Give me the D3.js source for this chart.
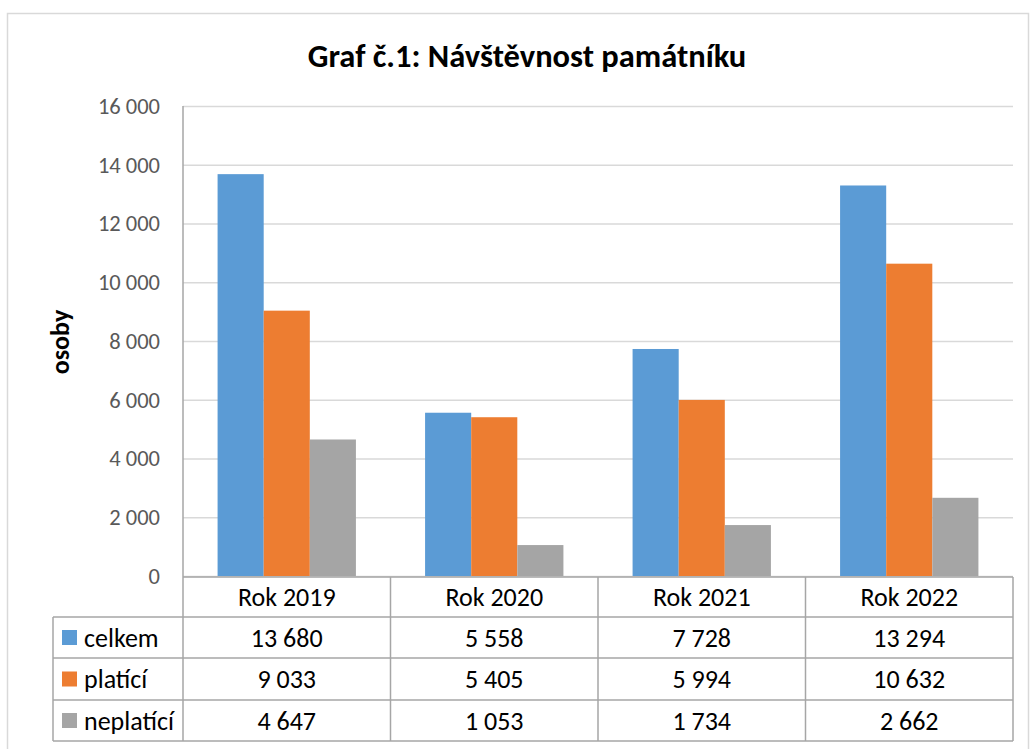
<!DOCTYPE html>
<html>
<head>
<meta charset="utf-8">
<script src="https://cdn.jsdelivr.net/npm/d3@7"></script>
<style>
  body { margin: 0; background: #fff; }
  text { font-family: Carlito, Calibri, Lato, sans-serif; }
</style>
</head>
<body>
<svg id="chart" width="1030" height="749"></svg>
<script>
const years = ["Rok 2019", "Rok 2020", "Rok 2021", "Rok 2022"];
const seriesNames = ["celkem", "platící", "neplatící"];
const celkem = [13680, 5558, 7728, 13294];
const platici = [9033, 5405, 5994, 10632];
const neplatici = [4647, 1053, 1734, 2662];
const yTicks = [0, 2000, 4000, 6000, 8000, 10000, 12000, 14000, 16000];
const colors = ["#5b9bd5", "#ed7d31", "#a5a5a5"];

const seriesValues = [celkem, platici, neplatici];
const fmt = v => d3.format(",")(v).replace(/,/g, " ");

const svg = d3.select("#chart");

// chart outer border
svg.append("rect")
    .attr("x", 7.5).attr("y", 13.5)
    .attr("width", 1021).attr("height", 760)
    .attr("fill", "#fff").attr("stroke", "#d9d9d9").attr("stroke-width", 1.5);

const plotLeft = 183, plotRight = 1013, plotTop = 106, plotBottom = 576;

const x0 = d3.scaleBand().domain(years).range([plotLeft, plotRight]);
const x1 = d3.scaleBand().domain(seriesNames).range([0, x0.bandwidth()]).paddingOuter(0.75);
const y = d3.scaleLinear().domain([0, 16000]).range([plotBottom, plotTop]);

// gridlines
svg.append("g")
    .attr("transform", "translate(" + plotLeft + ",0)")
    .call(d3.axisLeft(y).tickValues(yTicks).tickSize(-(plotRight - plotLeft)).tickFormat(""))
    .call(g => g.select(".domain").remove())
    .call(g => g.selectAll(".tick line").attr("stroke", "#d9d9d9").attr("stroke-width", 1.5));

// tick labels
svg.append("g")
    .selectAll("text")
    .data(yTicks)
    .enter()
    .append("text")
    .attr("x", 160)
    .attr("y", d => y(d))
    .attr("dy", "0.35em")
    .attr("text-anchor", "end")
    .attr("fill", "#595959")
    .style("font-size", "22.5px")
    .text(fmt);

// bars
const groups = svg.append("g")
    .selectAll("g")
    .data(seriesNames)
    .enter()
    .append("g")
    .attr("fill", (d, i) => colors[i]);

groups.selectAll("rect")
    .data((s, i) => seriesValues[i].map((v, j) => ({ s: s, year: years[j], v: v })))
    .enter()
    .append("rect")
    .attr("x", d => x0(d.year) + x1(d.s))
    .attr("y", d => y(d.v))
    .attr("width", x1.bandwidth())
    .attr("height", d => y(0) - y(d.v));

// data table
const rowY = [577, 617, 658, 700, 741];
const legendLeft = 53;
const lineClr = "#a6a6a6";
const tbl = svg.append("g").attr("stroke", lineClr).attr("stroke-width", 1.5);

// axis line continues down through the table
tbl.append("line").attr("x1", plotLeft).attr("x2", plotLeft).attr("y1", plotTop).attr("y2", rowY[4]);
tbl.append("line").attr("x1", plotLeft).attr("x2", plotRight).attr("y1", rowY[0]).attr("y2", rowY[0]);
rowY.slice(1).forEach(ry => {
    tbl.append("line").attr("x1", legendLeft).attr("x2", plotRight).attr("y1", ry).attr("y2", ry);
});
tbl.append("line").attr("x1", legendLeft).attr("x2", legendLeft).attr("y1", rowY[1]).attr("y2", rowY[4]);
years.forEach(yr => {
    const xr = x0(yr) + x0.bandwidth();
    tbl.append("line").attr("x1", xr).attr("x2", xr).attr("y1", rowY[0]).attr("y2", rowY[4]);
});

// category labels
svg.append("g")
    .selectAll("text")
    .data(years)
    .enter()
    .append("text")
    .attr("x", d => x0(d) + x0.bandwidth() / 2)
    .attr("y", (rowY[0] + rowY[1]) / 2)
    .attr("dy", "0.35em")
    .attr("text-anchor", "middle")
    .attr("fill", "#000")
    .style("font-size", "26px")
    .text(d => d);

// legend keys + values
seriesNames.forEach((s, i) => {
    const cy = (rowY[i + 1] + rowY[i + 2]) / 2;
    svg.append("rect")
        .attr("x", 62).attr("y", cy - 7.5)
        .attr("width", 15).attr("height", 15)
        .attr("fill", colors[i]);
    svg.append("text")
        .attr("x", 84).attr("y", cy)
        .attr("dy", "0.35em")
        .attr("fill", "#000")
        .style("font-size", "26px")
        .text(s);
    svg.append("g")
        .selectAll("text")
        .data(seriesValues[i])
        .enter()
        .append("text")
        .attr("x", (d, j) => x0(years[j]) + x0.bandwidth() / 2)
        .attr("y", cy)
        .attr("dy", "0.35em")
        .attr("text-anchor", "middle")
        .attr("fill", "#000")
        .style("font-size", "26px")
        .text(fmt);
});

// title
svg.append("text")
    .attr("x", 527)
    .attr("y", 56)
    .attr("dy", "0.35em")
    .attr("text-anchor", "middle")
    .attr("fill", "#000")
    .style("font-size", "32.5px")
    .style("font-weight", "bold")
    .text("Graf č.1: Návštěvnost památníku");

// y-axis title
svg.append("text")
    .attr("transform", "translate(60,342) rotate(-90)")
    .attr("dy", "0.35em")
    .attr("text-anchor", "middle")
    .attr("fill", "#000")
    .style("font-size", "26px")
    .style("font-weight", "bold")
    .text("osoby");
</script>
</body>
</html>
